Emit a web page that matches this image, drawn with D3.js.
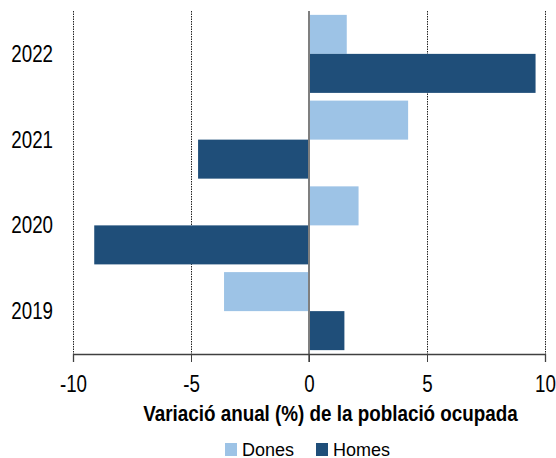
<!DOCTYPE html>
<html>
<head>
<meta charset="utf-8">
<title>Variació anual de la població ocupada</title>
<script src="https://cdn.jsdelivr.net/npm/d3@7"></script>
<style>
  body { margin: 0; background: #fff; }
  svg text { font-family: "Liberation Sans", Arial, sans-serif; fill: #000; }
</style>
</head>
<body>
<div id="chart"></div>
<script>
// data
var years = ["2022", "2021", "2020", "2019"];
var series = ["Dones", "Homes"];
var dones = [1.6, 4.2, 2.1, -3.6];
var homes = [9.6, -4.7, -9.1, 1.5];
var xTicks = [-10, -5, 0, 5, 10];
var colors = ["#9dc3e6", "#1f4e79"];
var xTitle = "Variació anual (%) de la població ocupada";

var W = 556, H = 458;
var margin = {top: 11, right: 11, bottom: 104, left: 73};
var width = W - margin.left - margin.right,
    height = H - margin.top - margin.bottom;
// the original uses a narrow font, squeeze the text sideways
var narrow = 0.815;

var svg = d3.select("#chart").append("svg")
    .attr("width", W).attr("height", H);
var g = svg.append("g")
    .attr("transform", "translate(" + margin.left + "," + margin.top + ")");

var x = d3.scaleLinear().domain([-10, 10]).range([0, width]);
var y = d3.scaleBand().domain(years).range([0, height]).paddingInner(0.09).paddingOuter(0.045);
var ySub = d3.scaleBand().domain(series).range([0, y.bandwidth()]);

// gridlines
g.append("g").selectAll("line")
  .data(xTicks.filter(function(d) { return d !== 0; }))
  .enter().append("line")
    .attr("x1", function(d) { return Math.round(x(d)) + 0.5; })
    .attr("x2", function(d) { return Math.round(x(d)) + 0.5; })
    .attr("y1", 0).attr("y2", height)
    .attr("stroke", "#222").attr("stroke-width", 1)
    .attr("stroke-dasharray", "1.5,1");

// bars
var rows = years.map(function(yr, i) {
  return [{year: yr, s: "Dones", v: dones[i]}, {year: yr, s: "Homes", v: homes[i]}];
});
g.append("g").selectAll("g")
  .data(rows)
  .enter().append("g")
    .attr("transform", function(d) { return "translate(0," + y(d[0].year) + ")"; })
  .selectAll("rect")
  .data(function(d) { return d; })
  .enter().append("rect")
    .attr("x", function(d) { return x(Math.min(0, d.v)); })
    .attr("width", function(d) { return Math.abs(x(d.v) - x(0)); })
    .attr("y", function(d) { return ySub(d.s); })
    .attr("height", ySub.bandwidth())
    .attr("fill", function(d) { return colors[series.indexOf(d.s)]; });

// zero line
g.append("line")
  .attr("x1", x(0)).attr("x2", x(0))
  .attr("y1", 0).attr("y2", height + 8)
  .attr("stroke", "#7f7f7f").attr("stroke-width", 2);

// x axis
var xAxis = g.append("g")
  .attr("transform", "translate(0," + height + ")")
  .call(d3.axisBottom(x).tickValues(xTicks).tickSize(8).tickPadding(14)
    .tickFormat(function(d) { return String(d); }));
xAxis.select(".domain").attr("stroke", "#404040").attr("stroke-width", 1.3);
xAxis.selectAll(".tick line").attr("stroke", "#404040");
xAxis.selectAll(".tick text")
  .attr("font-size", 23)
  .attr("transform", "scale(" + narrow + ",1)")
  .style("font-family", null);

// y labels
g.append("g").selectAll("text")
  .data(years)
  .enter().append("text")
    .attr("transform", function(d) {
      return "translate(-20," + (y(d) + y.bandwidth() / 2) + ") scale(" + narrow + ",1)";
    })
    .attr("dy", "0.35em")
    .attr("text-anchor", "end")
    .attr("font-size", 23)
    .text(function(d) { return d; });

// x title
svg.append("text")
  .attr("transform", "translate(330.5,421) scale(0.856,1)")
  .attr("text-anchor", "middle")
  .attr("font-size", 22)
  .attr("font-weight", "bold")
  .text(xTitle);

// legend
var leg = svg.append("g").selectAll("g")
  .data(series)
  .enter().append("g")
    .attr("transform", function(d, i) { return "translate(" + (225 + i * 91) + ",443)"; });
leg.append("rect")
  .attr("width", 12).attr("height", 13)
  .attr("fill", function(d, i) { return colors[i]; });
leg.append("text")
  .attr("x", 17).attr("y", 12.5)
  .attr("font-size", 18)
  .text(function(d) { return d; });
</script>
</body>
</html>
